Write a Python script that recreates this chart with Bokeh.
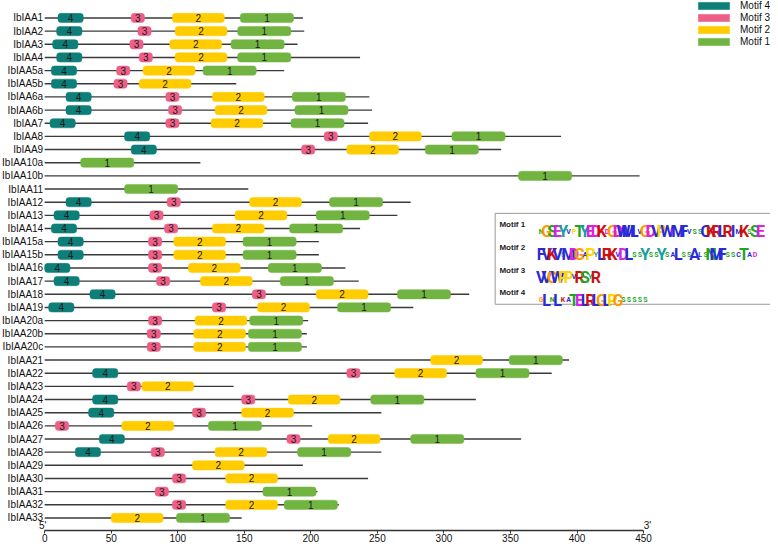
from bokeh.plotting import figure
from bokeh.models import Range1d, ColumnDataSource, Legend, LegendItem, LinearAxis, FixedTicker
from bokeh.core.properties import value
from bokeh.embed import file_html
from bokeh.resources import INLINE

# ---------------- data ----------------
genes = ["IbIAA1", "IbIAA2", "IbIAA3", "IbIAA4", "IbIAA5a", "IbIAA5b", "IbIAA6a", "IbIAA6b",
         "IbIAA7", "IbIAA8", "IbIAA9", "IbIAA10a", "IbIAA10b", "IbIAA11", "IbIAA12", "IbIAA13",
         "IbIAA14", "IbIAA15a", "IbIAA15b", "IbIAA16", "IbIAA17", "IbIAA18", "IbIAA19",
         "IbIAA20a", "IbIAA20b", "IbIAA20c", "IbIAA21", "IbIAA22", "IbIAA23", "IbIAA24",
         "IbIAA25", "IbIAA26", "IbIAA27", "IbIAA28", "IbIAA29", "IbIAA30", "IbIAA31",
         "IbIAA32", "IbIAA33"]
gene_length = [194, 195, 190, 237, 180, 144, 244, 246, 243, 388, 343, 117, 447, 153, 275, 265,
               237, 206, 206, 226, 236, 319, 277, 198, 197, 197, 394, 381, 142, 324,
               253, 201, 358, 253, 194, 243, 205, 221, 148]
motif4_start = [10, 9, 6, 9, 5, 5, 16, 16, 4, 60, 65, None, None, None, 16, 7,
                5, 10, 10, 0, 7, 34, 3, None, None, None, None, 36, None, 36,
                33, None, 41, 23, None, None, None, None, None]
motif3_start = [65, 70, 64, 71, 54, 52, 91, 93, 91, 210, 193, None, None, None, 92, 79,
                90, 78, 78, 78, 84, 156, 126, 78, 77, 77, None, 227, 62, 148,
                111, 8, 182, 80, None, 96, 83, 96, None]
motif2_start = [96, 98, 94, 98, 74, 71, 126, 128, 125, 244, 227, None, None, None, 154, 143,
                126, 97, 97, 108, 117, 204, 160, 113, 112, 112, 290, 263, 73, 183,
                148, 58, 213, 128, 111, 136, None, 136, 50]
motif1_start = [147, 145, 140, 145, 119, None, 186, 188, 185, 306, 286, 27, 356, 60, 214, 204,
                184, 149, 149, 168, 177, 265, 220, 154, 153, 153, 349, 324, None, 245,
                None, 123, 275, 190, None, None, 164, 180, 99]
motif_names = ["Motif 4", "Motif 3", "Motif 2", "Motif 1"]
motif_numbers = ["4", "3", "2", "1"]
motif_widths = [19, 10, 39, 40]
motif_colors = ["#0e7f78", "#ee5f87", "#ffcc00", "#72b442"]
axis_ticks = [0, 50, 100, 150, 200, 250, 300, 350, 400, 450]

# sequence logos (upper case = highly conserved position)
logo_names = ["Motif 1", "Motif 2", "Motif 3", "Motif 4"]
logo_seqs = ["nGSEYvpTYEDKdGDWMLvGDVPWeMFvssCKRLRImKsSE",
             "FVKVsMDGaPyLRKvDLssYssYsaLssAlsNMFsscTad",
             "VVGWPPvRSyR",
             "gLnLkaTELRLGLPGsssss"]
aa_colors = {}
for a in "ACFILVWM":
    aa_colors[a] = "#2b2bd6"
for a in "NQST":
    aa_colors[a] = "#1fa51f"
for a in "DE":
    aa_colors[a] = "#e020e0"
for a in "KR":
    aa_colors[a] = "#d01010"
aa_colors["H"] = "#ff88bb"
aa_colors["G"] = "#ff9900"
aa_colors["P"] = "#ffd400"
aa_colors["Y"] = "#14a0a0"

# ---------------- layout ----------------
FONT = "Liberation Sans"
n = len(genes)
row_px = 13.1
y_top = -17.4 / row_px
y_bot = (n - 1) + 12.5 / row_px

p = figure(width=770, height=544, x_range=Range1d(-33.2, 545.4), y_range=Range1d(y_bot, y_top),
           output_backend="svg", toolbar_location=None, x_axis_location=None, y_axis_location=None,
           min_border_left=0, min_border_right=0, min_border_top=0, min_border_bottom=0)
p.outline_line_color = None
p.xgrid.visible = False
p.ygrid.visible = False
p.background_fill_color = "white"
p.border_fill_color = "white"

ax = LinearAxis(ticker=FixedTicker(ticks=axis_ticks), bounds=(axis_ticks[0], axis_ticks[-1]))
ax.axis_line_color = "#333333"
ax.axis_line_width = 1.3
ax.major_tick_line_color = "#333333"
ax.major_tick_in = 0
ax.major_tick_out = 3
ax.minor_tick_in = 0
ax.minor_tick_out = 0
ax.major_label_standoff = 0
ax.major_label_text_font = FONT
ax.major_label_text_font_size = "10px"
ax.major_label_text_color = "#111111"
p.add_layout(ax, "below")

rows = list(range(n))
gsrc = ColumnDataSource(dict(x0=[0] * n, x1=gene_length, y=rows, name=genes))
p.segment(x0="x0", y0="y", x1="x1", y1="y", source=gsrc, line_color="#3a3a3a", line_width=1.4)
p.text(x="x0", y="y", text="name", source=gsrc, text_align="right", text_baseline="middle",
       x_offset=-1.5, text_font=value(FONT), text_font_size="10px", text_color="#111111")

half_h = 0.35
starts_all = [motif4_start, motif3_start, motif2_start, motif1_start]
renderers = []
for name, num, w, col, starts in zip(motif_names, motif_numbers, motif_widths, motif_colors, starts_all):
    L, R, T, B, Y, XC, LB = [], [], [], [], [], [], []
    for i, s in enumerate(starts):
        if s is None:
            continue
        L.append(s); R.append(s + w); T.append(i - half_h); B.append(i + half_h)
        Y.append(i); XC.append(s + w / 2); LB.append(num)
    src = ColumnDataSource(dict(left=L, right=R, top=T, bottom=B, y=Y, xc=XC, lab=LB))
    r = p.quad(left="left", right="right", top="top", bottom="bottom", source=src,
               fill_color=col, line_color=col, line_width=0.5, border_radius=3)
    p.text(x="xc", y="y", text="lab", source=src, text_align="center", text_baseline="middle",
           text_font=value(FONT), text_font_size="10px", text_color="#1a1a1a")
    renderers.append(r)

legend = Legend(items=[LegendItem(label=nm, renderers=[r]) for nm, r in zip(motif_names, renderers)],
                location="top_right", orientation="vertical", margin=0, padding=0, spacing=1,
                glyph_width=39, glyph_height=9, label_standoff=7, label_height=11,
                label_text_font=FONT, label_text_font_size="10px", label_text_color="#111111",
                border_line_color=None, background_fill_alpha=0)
p.add_layout(legend)

# 5' / 3' end marks
p.text(x=[axis_ticks[0] - 1.5, axis_ticks[-1] + 3], y=[y_bot, y_bot], text=["5'", "3'"],
       text_align="center", text_baseline="bottom", text_font=value(FONT),
       text_font_size="10px", text_color="#111111")

# motif logo panel
box_left, box_top, box_bottom = 338.5, 14.85, 21.76
p.quad(left=[box_left], right=[600], top=[box_top], bottom=[box_bottom],
       fill_color="white", line_color="#9a9a9a", line_width=1)
band = (box_bottom - box_top) / len(logo_names)
centers = [box_top + band * (k + 0.5) for k in range(len(logo_names))]
p.text(x=[box_left + 3.2] * len(logo_names), y=centers, text=logo_names, text_align="left",
       text_baseline="middle", text_font=value(FONT), text_font_style="bold",
       text_font_size="8px", text_color="#222222")

col_w = 4.12
logo_x0 = 371.0
LX, LY, LT, LC, LS = [], [], [], [], []
for k, seq in enumerate(logo_seqs):
    for j, ch in enumerate(seq):
        LX.append(logo_x0 + (j + 0.5) * col_w)
        LY.append(centers[k] + 0.55)
        LT.append(ch.upper())
        LC.append(aa_colors.get(ch.upper(), "#444444"))
        LS.append("16px" if ch.isupper() else "7px")
lsrc = ColumnDataSource(dict(x=LX, y=LY, t=LT, c=LC, s=LS))
p.text(x="x", y="y", text="t", source=lsrc, text_color="c", text_font_size="s",
       text_align="center", text_baseline="alphabetic", text_font=value("Roboto"),
       text_font_style="bold")

open("out.html", "w").write(file_html(p, INLINE))
